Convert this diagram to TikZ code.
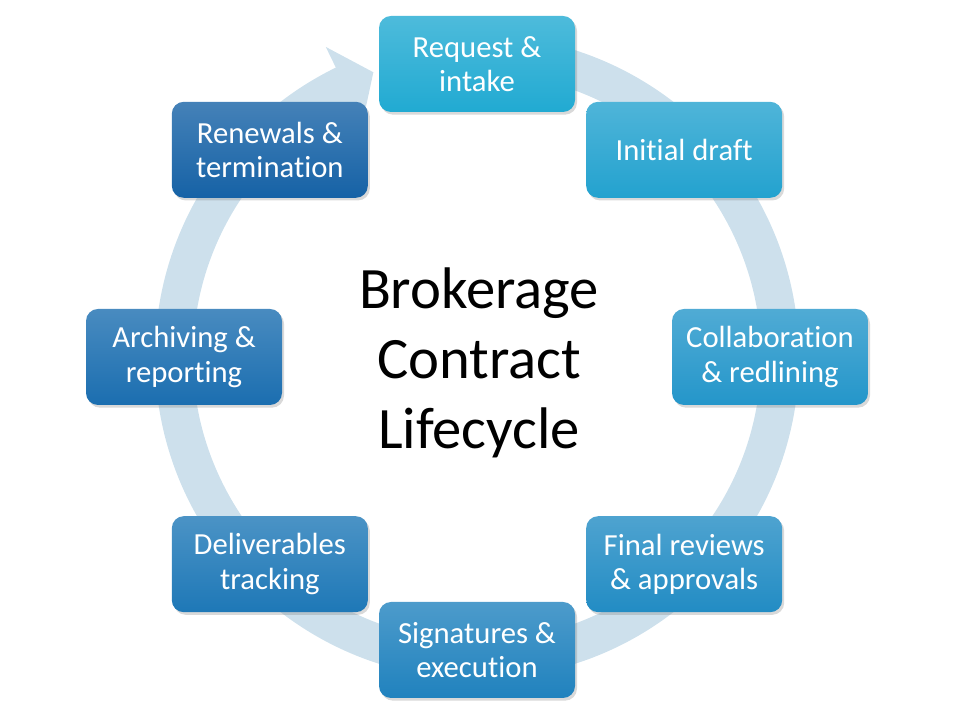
\documentclass[tikz,border=0pt]{standalone}
\usepackage{fontspec}
\setmainfont{Carlito}[Ligatures=NoCommon]
\usetikzlibrary{calc,shadows}
\definecolor{ringblue}{RGB}{205,224,236}
\definecolor{stA}{RGB}{33,170,210}
\definecolor{stB}{RGB}{35,162,207}
\definecolor{stC}{RGB}{36,150,202}
\definecolor{stD}{RGB}{34,140,196}
\definecolor{stE}{RGB}{32,130,190}
\definecolor{stF}{RGB}{30,120,183}
\definecolor{stG}{RGB}{27,110,176}
\definecolor{stH}{RGB}{22,98,166}
\begin{document}
\begin{tikzpicture}[x=0.75pt,y=0.75pt]
  \tikzstyle{stage}=[rounded corners=9pt,minimum width=147pt,minimum height=72pt,
    align=center,text=white,font=\fontsize{23}{26}\selectfont,
    drop shadow={opacity=0.3,shadow xshift=1.5pt,shadow yshift=-2pt}]

  \useasboundingbox (0,0) rectangle (960,720);
  \coordinate (c) at (477,363);

  % the ring, ending in an arrow head left of the first stage
  \fill[ringblue] ($(c)+(95:322)$) arc[start angle=95,end angle=-244,radius=322]
    -- ($(c)+(116:345)$) -- ($(c)+(110:303)$) -- ($(c)+(116:261)$)
    -- ($(c)+(116:284)$) arc[start angle=-244,end angle=95,radius=284] -- cycle;

  \node[font=\fontsize{44}{52.5}\selectfont,align=center] (title) at (479,357)
    {Brokerage\\Contract\\Lifecycle};

  % stages, clockwise from the top
  \foreach \a/\n/\col/\txt in {90/request/stA/{Request \&\\intake},
      45/draft/stB/{Initial draft},
      0/collab/stC/{Collaboration\\\& redlining},
      -45/review/stD/{Final reviews\\\& approvals},
      -90/sign/stE/{Signatures \&\\execution},
      -135/deliver/stF/{Deliverables\\tracking},
      180/archive/stG/{Archiving \&\\reporting},
      135/renew/stH/{Renewals \&\\termination}}
    \node[stage,top color=\col!80!white,bottom color=\col] (\n) at ($(c)+(\a:293)$) {\txt};
\end{tikzpicture}
\end{document}
